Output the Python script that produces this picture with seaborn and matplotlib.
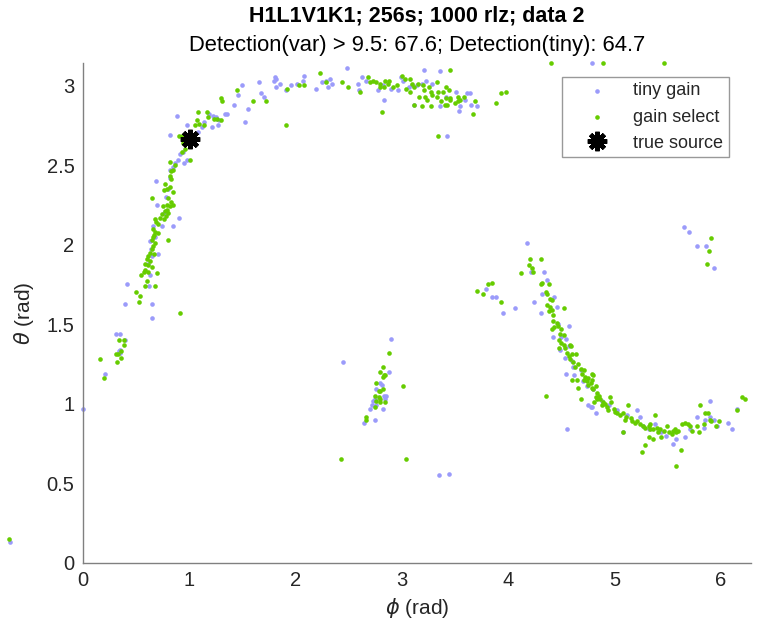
'''
Sky localisation scatter: tiny gain vs gain select, with the true source marked.
'''

import numpy as np
import pandas as pd
import matplotlib
matplotlib.use('Agg')
import matplotlib.pyplot as plt
import seaborn as sns

# Chart text
title_main = 'H1L1V1K1; 256s; 1000 rlz; data 2'
title_sub = 'Detection(var) > 9.5: 67.6; Detection(tiny): 64.7'
x_label = r'$\phi$ (rad)'
y_label = r'$\theta$ (rad)'
series_names = ['tiny gain', 'gain select', 'true source']

# Tick values
x_ticks = [0, 1, 2, 3, 4, 5, 6]
y_ticks = [0, 0.5, 1, 1.5, 2, 2.5, 3]

# tiny gain points (phi, theta)
tiny_phi = [
    0.41, 0.62, 0.40, 0.65, 0.65, 0.31, 0.35, 0.40, 0.35, 0.34, 0.35, 0.21, 0.00,
    1.42, 0.88, 1.34, 1.22, 1.25, 1.26, 0.98, 1.14, 1.12, 1.21, 0.82, 1.08, 0.94,
    0.91, 0.89, 0.87, 0.85, 0.82, 0.98, 0.95, 0.69, 0.82, 0.80, 0.70, 0.90, 0.85,
    0.74, 0.66, 0.63, 0.71, 0.65, 0.61, 0.63, 0.78, 0.76, 0.68, 0.64,
    2.48, 1.81, 1.80, 1.82, 1.66, 1.85, 1.82, 1.96, 2.01, 2.07, 2.08, 1.91, 2.19,
    2.25, 2.29, 2.32, 2.34, 2.30, 1.50, 1.46, 1.67, 1.70, 1.55, 1.35, 1.19, 1.28,
    1.27, 1.52,
    3.21, 3.36, 2.62, 2.66, 2.59, 2.60, 2.77, 2.82, 2.90, 2.96, 2.99, 3.01, 3.07,
    3.09, 3.14, 3.19, 3.23, 3.28, 2.83, 3.11, 3.36, 3.41, 3.51, 3.61, 3.64, 3.55,
    3.54, 3.65, 3.71, 3.59, 3.42,
    4.18, 4.34, 4.36, 4.21, 3.79, 3.85, 3.88, 3.95, 4.06, 4.24, 4.31, 4.32, 4.43,
    4.46, 4.57, 4.42, 4.54, 4.57, 4.49, 4.53, 4.60, 4.61, 4.68, 4.54, 4.74, 4.80,
    4.75, 4.78, 4.82, 4.55, 4.62, 4.70, 4.88, 4.95, 5.02, 5.12, 4.47, 4.50,
    4.79, 5.21, 5.08, 5.24, 5.27, 5.32, 5.38, 5.44, 5.48, 5.55, 5.58, 5.66, 5.71,
    5.77, 5.84, 5.85, 5.90, 5.93, 5.90, 5.96, 6.07, 6.10, 6.15,
    2.90, 2.45, 2.88, 2.79, 2.81, 2.76, 2.83, 2.85, 2.84, 2.73, 2.75, 2.72, 2.76,
    2.70, 2.82, 2.75, 2.64, 3.35, 3.44,
    4.79, 5.65, 5.70, 5.77, 5.86, 5.93,
    -0.69,
]
tiny_theta = [
    1.75, 1.74, 1.63, 1.63, 1.54, 1.44, 1.44, 1.40, 1.34, 1.33, 1.32, 1.19, 0.97,
    2.88, 2.81, 2.82, 2.81, 2.80, 2.79, 2.75, 2.77, 2.74, 2.74, 2.69, 2.71, 2.58,
    2.57, 2.53, 2.51, 2.49, 2.47, 2.53, 2.51, 2.40, 2.42, 2.35, 2.25, 2.17, 2.12,
    2.12, 2.12, 2.02, 1.94, 1.93, 1.88, 1.81, 2.30, 2.20, 2.05, 1.97,
    3.11, 3.05, 3.03, 3.04, 3.02, 3.01, 2.99, 3.00, 3.01, 3.03, 3.06, 2.97, 2.98,
    3.02, 3.03, 3.04, 3.01, 2.99, 3.00, 2.94, 2.95, 2.93, 2.85, 2.82, 2.82, 2.78,
    2.75, 2.77,
    3.10, 3.09, 3.05, 3.03, 3.01, 2.97, 2.97, 3.00, 2.98, 2.97, 3.05, 3.03, 2.99,
    3.00, 3.00, 3.01, 3.03, 3.01, 2.91, 2.88, 2.87, 2.93, 2.96, 2.95, 2.95, 2.87,
    2.84, 2.88, 2.87, 2.91, 2.68,
    2.01, 1.83, 1.78, 1.83, 1.72, 1.67, 1.67, 1.57, 1.60, 1.64, 1.57, 1.69, 1.67,
    1.61, 1.49, 1.42, 1.41, 1.36, 1.34, 1.29, 1.27, 1.23, 1.21, 1.19, 1.11, 1.09,
    0.99, 0.98, 0.94, 0.84, 1.18, 1.14, 1.02, 0.99, 0.96, 0.93, 1.50, 1.42,
    0.98, 0.96, 0.82, 0.92, 0.86, 0.84, 0.87, 0.82, 0.80, 0.75, 0.78, 0.79, 0.84,
    0.92, 0.85, 0.90, 0.92, 0.90, 1.02, 0.86, 0.88, 0.84, 0.97,
    1.41, 1.26, 1.20, 1.13, 1.12, 1.09, 1.05, 1.05, 1.03, 1.02, 1.03, 0.99, 0.99,
    0.97, 0.97, 0.90, 0.88, 0.55, 0.56,
    3.14, 2.11, 2.08, 1.99, 1.99, 1.85,
    0.134,
]

# gain select points (phi, theta)
sel_phi = [
    0.60, 0.58, 0.68, 0.50, 0.54, 0.53, 0.91, 0.34, 0.39, 0.39, 0.36, 0.31, 0.33,
    0.36, 0.16, 0.32, 0.20,
    1.31, 1.08, 1.17, 1.18, 1.23, 1.26, 1.30, 1.07, 1.05, 1.09, 1.14, 0.93, 0.94,
    0.96, 0.93, 1.01, 0.82, 0.87, 0.85, 0.83, 0.82, 0.83, 0.77, 0.82, 0.79, 0.76,
    0.85, 0.65, 0.80, 0.83, 0.82, 0.79, 0.85, 0.75, 0.77, 0.80, 0.79, 0.74, 0.72,
    0.76, 0.78, 0.68, 0.69, 0.71, 0.66, 0.68, 0.71, 0.67, 0.80, 0.66, 0.65, 0.68,
    0.66, 0.65, 0.63, 0.67, 0.61, 0.60, 0.63, 0.58, 0.61, 0.65, 0.58, 0.61, 0.57,
    0.70, 0.55, 0.90,
    1.45, 1.30, 1.60, 1.72, 1.92, 2.03, 2.08, 2.23, 2.29, 2.44, 2.49, 1.91,
    2.61, 2.68, 2.70, 2.73, 2.76, 2.79, 2.84, 2.88, 2.87, 2.79, 2.83, 2.92, 2.95,
    3.00, 3.03, 3.08, 3.09, 3.11, 3.04, 3.08, 3.15, 3.20, 3.21, 3.25, 3.27, 3.16,
    3.22, 3.24, 3.28, 3.33, 3.34, 3.33, 3.39, 3.41, 3.44, 3.41, 3.45, 3.37, 3.40,
    3.42, 3.45, 3.50, 3.53, 3.55, 3.58, 3.53, 3.45, 3.27, 3.19, 3.11, 2.81, 3.67,
    3.69, 3.88, 3.93, 3.98, 3.34,
    4.20, 4.19, 4.22, 4.23, 4.31, 4.12, 3.81, 3.85, 3.71, 3.76, 3.93, 4.31, 4.32,
    4.38, 4.35, 4.36, 4.39, 4.41, 4.36, 4.39, 4.38, 4.41, 4.52, 4.42, 4.42, 4.46,
    4.43, 4.47, 4.50, 4.41, 4.49, 4.52, 4.48, 4.50, 4.52, 4.58, 4.48, 4.53, 4.55,
    4.57, 4.60, 4.59, 4.64, 4.58, 4.61, 4.66, 4.63, 4.68, 4.71, 4.69, 4.72, 4.75,
    4.71, 4.74, 4.80, 4.78, 4.75, 4.82, 4.80, 4.83, 4.85, 4.65, 4.60, 4.66, 4.83,
    4.81, 4.35, 4.68,
    4.79, 4.79, 4.79, 4.82, 4.86, 4.89, 4.88, 4.91, 4.93, 4.96, 4.97, 4.94, 4.99,
    5.00, 5.02, 5.05, 5.08, 5.11, 5.10, 5.15, 5.16, 5.13, 5.19, 5.21, 5.24, 5.27,
    5.29, 5.32, 5.33, 5.36, 5.40, 5.43, 5.41, 5.46, 5.49, 5.51, 5.55, 5.57, 5.58,
    5.60, 5.38, 5.33, 5.36, 5.32, 5.29, 5.26, 5.62, 5.58, 5.63, 5.66, 5.69, 5.71,
    5.73, 5.77, 5.79, 5.80, 5.84, 5.85, 5.88, 5.90, 5.91, 5.95, 5.98, 6.15, 6.20,
    6.23, 5.08, 5.54, 5.44,
    2.88, 2.82, 2.79, 2.83, 2.82, 2.84, 2.76, 2.78, 2.79, 2.82, 3.01, 2.75, 2.78,
    2.79, 2.76, 2.79, 2.84, 2.75, 2.66, 2.66, 2.43, 3.04,
    4.40, 4.89, 5.46, 5.91, 5.89, 5.87,
    -0.70,
]
sel_theta = [
    1.77, 1.74, 1.74, 1.70, 1.68, 1.64, 1.57, 1.40, 1.40, 1.37, 1.33, 1.31, 1.31,
    1.29, 1.28, 1.26, 1.16,
    2.90, 2.83, 2.83, 2.80, 2.79, 2.79, 2.78, 2.78, 2.75, 2.76, 2.75, 2.68, 2.64,
    2.60, 2.58, 2.53, 2.52, 2.50, 2.47, 2.46, 2.43, 2.41, 2.38, 2.36, 2.35, 2.34,
    2.33, 2.29, 2.29, 2.27, 2.24, 2.25, 2.25, 2.24, 2.21, 2.20, 2.22, 2.19, 2.17,
    2.16, 2.18, 2.16, 2.14, 2.13, 2.10, 2.08, 2.07, 2.06, 2.03, 2.05, 2.03, 2.01,
    1.99, 1.97, 1.95, 1.94, 1.93, 1.91, 1.90, 1.88, 1.87, 1.86, 1.84, 1.83, 1.83,
    1.82, 1.81, 2.68,
    2.97, 2.92, 2.90, 2.90, 2.98, 3.00, 3.00, 3.08, 3.02, 3.02, 2.99, 2.75,
    2.96, 3.05, 3.02, 3.03, 3.02, 3.01, 3.03, 3.03, 3.01, 2.99, 2.99, 2.99, 3.00,
    3.06, 3.04, 3.04, 3.01, 2.99, 2.98, 2.96, 3.01, 3.00, 2.97, 2.99, 2.96, 2.93,
    2.93, 2.91, 2.94, 3.02, 2.96, 2.93, 2.96, 2.99, 2.97, 2.92, 2.92, 2.90, 2.88,
    2.88, 2.91, 2.89, 2.93, 2.91, 2.93, 2.90, 3.10, 2.87, 2.87, 2.88, 2.83, 2.82,
    2.90, 2.89, 2.95, 2.96, 2.68,
    1.91, 1.87, 1.85, 1.83, 1.91, 1.82, 1.75, 1.76, 1.71, 1.69, 1.64, 1.75, 1.76,
    1.75, 1.70, 1.69, 1.66, 1.65, 1.62, 1.61, 1.58, 1.59, 1.60, 1.56, 1.52, 1.51,
    1.48, 1.49, 1.47, 1.47, 1.44, 1.43, 1.40, 1.38, 1.37, 1.37, 1.35, 1.35, 1.32,
    1.30, 1.31, 1.36, 1.31, 1.28, 1.26, 1.25, 1.23, 1.22, 1.21, 1.19, 1.17, 1.16,
    1.15, 1.14, 1.18, 1.13, 1.12, 1.11, 1.09, 1.07, 1.05, 1.15, 1.15, 1.10, 1.03,
    1.01, 1.05, 1.03,
    1.19, 1.15, 1.10, 1.04, 1.03, 1.01, 0.99, 1.00, 0.98, 1.04, 1.01, 0.96, 0.97,
    0.95, 0.94, 0.93, 0.94, 0.92, 0.90, 0.91, 0.89, 0.99, 0.88, 0.89, 0.87, 0.86,
    0.85, 0.86, 0.84, 0.84, 0.85, 0.84, 0.82, 0.83, 0.86, 0.82, 0.83, 0.84, 0.82,
    0.83, 0.93, 0.87, 0.78, 0.79, 0.74, 0.70, 0.71, 0.61, 0.87, 0.88, 0.87, 0.86,
    0.83, 0.86, 0.82, 0.99, 0.87, 0.94, 0.94, 0.90, 0.89, 0.86, 0.89, 0.96, 1.04,
    1.03, 0.82, 0.81, 0.79,
    1.32, 1.23, 1.20, 1.18, 1.17, 1.18, 1.13, 1.08, 1.08, 1.09, 1.11, 1.05, 1.04,
    1.03, 1.02, 1.01, 1.01, 0.98, 0.92, 0.90, 0.65, 0.65,
    3.14, 3.14, 3.14, 2.04, 1.96, 1.88,
    0.149,
]

# true source location
true_phi = [1.01]
true_theta = [2.665]

# Colours
tiny_color = '#9B9BFA'
sel_color = '#66CC00'
axis_gray = '#808080'
text_gray = '#262626'


def main():
    sns.set_style('white')
    plt.rcParams['font.family'] = ['Liberation Sans', 'DejaVu Sans']
    plt.rcParams['mathtext.fontset'] = 'dejavusans'

    fig = plt.figure(figsize=(7.61, 6.29), dpi=100)
    ax = fig.add_axes([0.109, 0.105, 0.878, 0.795])

    # scatter layers: tiny gain first, gain select drawn on top
    sns.scatterplot(x=tiny_phi, y=tiny_theta, ax=ax, color=tiny_color, s=11,
                    linewidth=0, legend=False, label=series_names[0], clip_on=False)
    sns.scatterplot(x=sel_phi, y=sel_theta, ax=ax, color=sel_color, s=11,
                    linewidth=0, legend=False, label=series_names[1], clip_on=False)
    ax.plot(true_phi, true_theta, linestyle='none', marker=(8, 2, 0),
            markersize=14, markeredgewidth=3.2, color='black', label=series_names[2])

    ax.set_xlim(0, 2 * np.pi)
    ax.set_ylim(0, np.pi)
    ax.set_xticks(x_ticks)
    ax.set_yticks(y_ticks)
    ax.set_xticklabels([f'{t:g}' for t in x_ticks])
    ax.set_yticklabels([f'{t:g}' for t in y_ticks])

    # MATLAB-ish axes: left/bottom only, ticks inward
    for side in ['top', 'right']:
        ax.spines[side].set_visible(False)
    for side in ['left', 'bottom']:
        ax.spines[side].set_color(axis_gray)
        ax.spines[side].set_linewidth(1.0)
    ax.tick_params(direction='in', length=5, width=1.0, color=axis_gray,
                   labelsize=14.5, labelcolor=text_gray, pad=6)

    ax.set_xlabel(x_label, fontsize=15, color=text_gray, labelpad=4)
    ax.set_ylabel(y_label, fontsize=15, color=text_gray, labelpad=8)

    # two-line title
    ax.text(0.5, 1.093, title_main, transform=ax.transAxes, ha='center', va='center',
            fontsize=15.5, fontweight='bold', color='black')
    ax.text(0.5, 1.035, title_sub, transform=ax.transAxes, ha='center', va='center',
            fontsize=15.8, color='black')

    leg = ax.legend(loc='upper right', bbox_to_anchor=(0.967, 0.972), fontsize=13,
                    frameon=True, fancybox=False, edgecolor=axis_gray,
                    markerscale=1.0, borderpad=0.31, labelspacing=0.5,
                    handlelength=3.3, handletextpad=0.35, borderaxespad=0)
    leg.get_frame().set_linewidth(1.0)
    for text in leg.get_texts():
        text.set_color(text_gray)

    fig.savefig('out.png', dpi=100)


if __name__ == '__main__':
    main()
